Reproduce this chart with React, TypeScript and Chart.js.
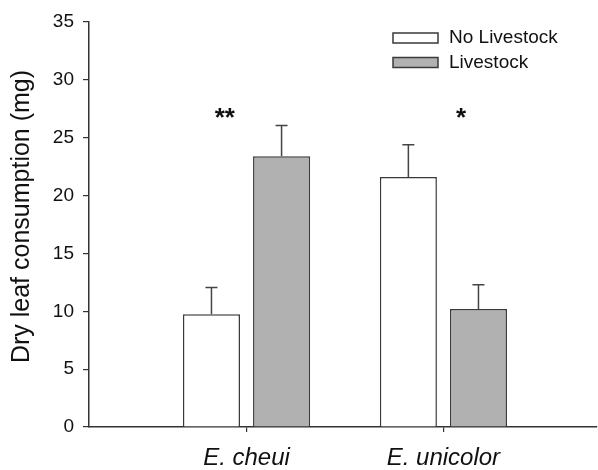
import React, { useEffect, useRef } from "react";
import { Chart, registerables } from "chart.js";

Chart.register(...registerables);

const categories = ["E. cheui", "E. unicolor"];
const categoryPositions = [1, 2];
const seriesNames = ["No Livestock", "Livestock"];
const noLivestock = [9.75, 21.6];
const livestock = [23.4, 10.2];
const noLivestockErr = [2.3, 2.8];
const livestockErr = [2.65, 2.1];
const significance = ["**", "*"];
const starX = [0.89, 2.09];
const starY = [27.0, 27.0];
const yTicks = [0, 5, 10, 15, 20, 25, 30, 35];
const yTitle = "Dry leaf consumption (mg)";

const FONT = "'Liberation Sans', Arial, Helvetica, sans-serif";
const COLORS = ["#ffffff", "#b1b1b1"];
const BORDER = "#3a3a3a";

const errorBarPlugin = {
  id: "errorBars",
  afterDatasetsDraw(chart: any) {
    const ctx = chart.ctx;
    const yScale = chart.scales.y;
    ctx.save();
    ctx.strokeStyle = "#444";
    ctx.lineWidth = 1.5;
    chart.data.datasets.forEach((ds: any, di: number) => {
      const meta = chart.getDatasetMeta(di);
      meta.data.forEach((bar: any, i: number) => {
        const v = ds.data[i].y;
        const e = ds.errors[i];
        const top = yScale.getPixelForValue(v + e);
        ctx.beginPath();
        ctx.moveTo(bar.x, bar.y);
        ctx.lineTo(bar.x, top);
        ctx.moveTo(bar.x - 6, top);
        ctx.lineTo(bar.x + 6, top);
        ctx.stroke();
      });
    });
    ctx.restore();
  },
};

const annotationPlugin = {
  id: "annotations",
  afterDraw(chart: any) {
    const ctx = chart.ctx;
    const xs = chart.scales.x;
    const ys = chart.scales.y;
    const area = chart.chartArea;
    ctx.save();
    // y axis title
    ctx.save();
    ctx.translate(22, (area.top + area.bottom) / 2 - 8);
    ctx.rotate(-Math.PI / 2);
    ctx.font = `25px ${FONT}`;
    ctx.fillStyle = "#111";
    ctx.textAlign = "center";
    ctx.textBaseline = "middle";
    ctx.fillText(yTitle, 0, 0);
    ctx.restore();
    // significance stars
    ctx.fillStyle = "#111";
    ctx.font = `bold 26px ${FONT}`;
    ctx.textAlign = "center";
    ctx.textBaseline = "middle";
    significance.forEach((s, i) => {
      ctx.fillText(s, xs.getPixelForValue(starX[i]), ys.getPixelForValue(starY[i]) + 4);
    });
    // legend
    ctx.font = `19px ${FONT}`;
    ctx.textAlign = "left";
    ctx.textBaseline = "middle";
    chart.data.datasets.forEach((ds: any, i: number) => {
      const bx = area.left + 304;
      const by = area.top + 11 + i * 24.5;
      ctx.fillStyle = ds.backgroundColor;
      ctx.fillRect(bx, by, 45, 10);
      ctx.strokeStyle = BORDER;
      ctx.lineWidth = 1.5;
      ctx.strokeRect(bx, by, 45, 10);
      ctx.fillStyle = "#111";
      ctx.fillText(ds.label, bx + 56, by + 5);
    });
    ctx.restore();
  },
};

export default function App() {
  const ref = useRef<HTMLCanvasElement>(null);

  useEffect(() => {
    if (!ref.current) return;
    const mk = (vals: number[]) => vals.map((v, i) => ({ x: categoryPositions[i], y: v }));
    const chart = new Chart(ref.current, {
      type: "bar",
      data: {
        datasets: [
          {
            label: seriesNames[0],
            data: mk(noLivestock),
            errors: noLivestockErr,
            backgroundColor: COLORS[0],
            borderColor: BORDER,
            borderWidth: 1.5,
            categoryPercentage: 0.712,
            barPercentage: 0.814,
          } as any,
          {
            label: seriesNames[1],
            data: mk(livestock),
            errors: livestockErr,
            backgroundColor: COLORS[1],
            borderColor: BORDER,
            borderWidth: 1.5,
            categoryPercentage: 0.712,
            barPercentage: 0.814,
          } as any,
        ],
      },
      options: {
        animation: false,
        responsive: false,
        maintainAspectRatio: false,
        layout: { padding: { left: 0, right: 1, top: 22, bottom: 0 } },
        plugins: { legend: { display: false }, tooltip: { enabled: false } },
        scales: {
          x: {
            type: "linear",
            offset: false,
            min: 0.2,
            max: 2.78,
            afterBuildTicks: (scale: any) => {
              scale.ticks = categoryPositions.map((v) => ({ value: v }));
            },
            afterFit: (scale: any) => {
              scale.height = 43;
            },
            ticks: {
              callback: (v: any) => {
                const idx = categoryPositions.indexOf(Number(v));
                return idx >= 0 ? categories[idx] : "";
              },
              font: { family: FONT, size: 24, style: "italic" },
              color: "#111",
              padding: 12,
              maxRotation: 0,
              autoSkip: false,
            },
            grid: { display: true, offset: false, drawOnChartArea: false, drawTicks: true, tickLength: 5, color: "#333", lineWidth: 1.2 },
            border: { display: true, color: "#333", width: 1.5 },
          },
          y: {
            type: "linear",
            min: 0,
            max: 35,
            afterBuildTicks: (scale: any) => {
              scale.ticks = yTicks.map((v) => ({ value: v }));
            },
            afterFit: (scale: any) => {
              scale.width = 89;
            },
            ticks: {
              font: { family: FONT, size: 19 },
              color: "#111",
              padding: 9,
            },
            title: { display: false },
            grid: { display: true, drawOnChartArea: false, drawTicks: true, tickLength: 6, color: "#333", lineWidth: 1.2 },
            border: { display: true, color: "#333", width: 1.5 },
          },
        },
      },
      plugins: [errorBarPlugin, annotationPlugin],
    } as any);
    return () => chart.destroy();
  }, []);

  return (
    <div style={{ position: "absolute", left: 0, top: 0, width: 598, height: 470, background: "#fff" }}>
      <canvas ref={ref} width={598} height={470} style={{ width: 598, height: 470 }} />
    </div>
  );
}
